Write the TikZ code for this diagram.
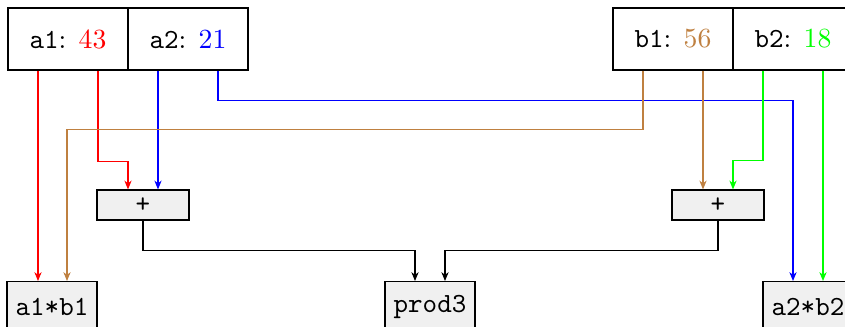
\documentclass[tikz,border=0pt]{standalone}
\usepackage{tikz}
\usetikzlibrary{arrows.meta, calc}

\begin{document}
\begin{tikzpicture}[x=0.0127cm, y=-0.0127cm,
  >={Stealth[length=3.2pt, width=2.6pt, inset=1pt]},
  varbox/.style={draw, fill=white, inner sep=0pt, minimum width=1.524cm, minimum height=0.787cm},
  opbox/.style={draw, fill=black!6, inner sep=0pt, minimum width=1.168cm, minimum height=0.381cm, font=\ttfamily},
  resbox/.style={draw, fill=black!6, inner sep=0pt, minimum width=1.143cm, minimum height=0.635cm, anchor=north, font=\ttfamily}]
  \useasboundingbox (0,0) rectangle (845,327);

  % 入力
  \foreach \nm/\val/\col/\x in {a1/43/red/68, a2/21/blue/188, b1/56/brown/673, b2/18/green/793} {
    \node[varbox] (\nm) at (\x,39) {\texttt{\nm}: \textcolor{\col}{\val}};
    \coordinate (\nm-l) at ($(\nm.south)+(-30,0)$);
    \coordinate (\nm-r) at ($(\nm.south)+(30,0)$);
  }

  % 演算
  \node[opbox] (addL) at (143,205) {+};
  \node[opbox] (addR) at (718,205) {+};

  % 結果
  \node[resbox] (a1b1) at (52,281) {a1*b1};
  \node[resbox] (prod) at (430,281) {prod3};
  \node[resbox] (a2b2) at (808,281) {a2*b2};

  % 配線
  \draw[->, red] (a1-l) -- (a1-l |- a1b1.north);
  \draw[->, red] (a1-r) -- ++(0,91) -| ($(addL.north)+(-15,0)$);
  \draw[->, blue] (a2-l) -- (a2-l |- addL.north);
  \draw[->, blue] (a2-r) -- ++(0,30) -| ($(a2b2.north)+(-15,0)$);
  \draw[->, brown] (b1-l) -- ++(0,59) -| ($(a1b1.north)+(15,0)$);
  \draw[->, brown] (b1-r) -- (b1-r |- addR.north);
  \draw[->, green] (b2-l) -- ++(0,90) -| ($(addR.north)+(15,0)$);
  \draw[->, green] (b2-r) -- (b2-r |- a2b2.north);
  \draw[->] (addL.south) -- ++(0,30) -| ($(prod.north)+(-15,0)$);
  \draw[->] (addR.south) -- ++(0,30) -| ($(prod.north)+(15,0)$);
\end{tikzpicture}
\end{document}
